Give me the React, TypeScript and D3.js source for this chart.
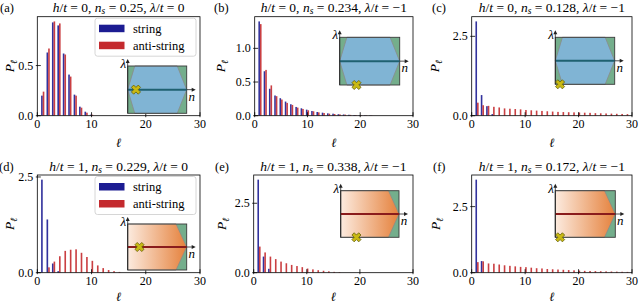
import React from 'react';
import * as d3 from 'd3';

// string / anti-string length distributions P_ell, ell = 1, 2, 3, ...
const stringA = [0.2, 0.63, 0.93, 0.9, 0.62, 0.41, 0.21, 0.09, 0.04, 0.01];
const antiA = [0.24, 0.67, 0.94, 0.92, 0.61, 0.39, 0.2, 0.08, 0.03, 0.01];

const stringB = [1.4, 0.66, 0.4, 0.3, 0.26, 0.21, 0.17, 0.13, 0.11, 0.09, 0.07, 0.055, 0.045, 0.035, 0.03, 0.022, 0.018, 0.014, 0.01, 0.008, 0.006, 0.005];
const antiB = [1.36, 0.68, 0.45, 0.29, 0.24, 0.19, 0.16, 0.12, 0.1, 0.08, 0.065, 0.05, 0.04, 0.03, 0.025, 0.02, 0.016, 0.012, 0.01, 0.008, 0.006, 0.005];

const stringC = [2.97, 0.65, 0.3, 0.05];
const antiC = [0.41, 0.33, 0.31, 0.28, 0.26, 0.23, 0.22, 0.21, 0.2, 0.18, 0.17, 0.16, 0.15, 0.14, 0.13, 0.12, 0.115, 0.11, 0.105, 0.1, 0.095, 0.09, 0.08, 0.075, 0.07, 0.065, 0.06, 0.055, 0.05];

const stringD = [2.43, 1.39, 0.24, 0.04];
const antiD = [0.0, 0.14, 0.29, 0.43, 0.57, 0.6, 0.61, 0.52, 0.41, 0.31, 0.19, 0.12, 0.07, 0.04, 0.02];

const stringE = [3.35, 0.58, 0.14];
const antiE = [0.94, 0.73, 0.58, 0.49, 0.4, 0.34, 0.28, 0.24, 0.2, 0.15, 0.12, 0.09, 0.07, 0.05, 0.03, 0.02];

const stringF = [3.52, 0.44];
const antiF = [0.4, 0.43, 0.35, 0.34, 0.31, 0.28, 0.26, 0.24, 0.22, 0.21, 0.19, 0.17, 0.16, 0.14, 0.13, 0.12, 0.11, 0.1, 0.09, 0.08, 0.07, 0.065, 0.06, 0.055, 0.05, 0.045, 0.04, 0.035, 0.03];

// panel parameters
const panelLetters = ['a', 'b', 'c', 'd', 'e', 'f'];
const hValues = ['0', '0', '0', '1', '1', '1'];
const nsValues = ['0.25', '0.234', '0.128', '0.229', '0.338', '0.172'];
const lamValues = ['0', '\u22121', '\u22121', '0', '\u22121', '\u22121'];
const yTicks = [[0, 0.5], [0, 0.5, 1.0], [0, 2.5], [0, 2.5], [0, 2.5], [0, 2.5]];
const xTicks = [0, 10, 20, 30];

// position of the cross in the (n, lambda) phase diagram insets
const markN = [0.14, 0.28, 0.08, 0.2, 0.27, 0.08];
const markLam = [0, -1, -1, 0, -1, -1];

// phase boundaries in the insets
const hexN = [0, 0.12, 0.84, 1, 0.84, 0.12];
const hexLam = [0, 1, 1, 0, -1, -1];
const pentN = [0, 0.82, 1, 0.82, 0];
const pentLam = [1, 1, 0, -1, -1];

const stringSeries = [stringA, stringB, stringC, stringD, stringE, stringF];
const antiSeries = [antiA, antiB, antiC, antiD, antiE, antiF];

const W = 639;
const H = 303;
const serif = 'Liberation Serif';
const blue = '#1c1c92';
const red = '#c42a2e';

// pixel layout of each panel: axes box, inset box, whether it has a legend
const layout = [
  { ax: [37.3, 200, 16.7, 115.7], inset: [127.7, 186.7, 66, 113.3], label: 0, ylab: 14, xlab: 31, legend: true },
  { ax: [254.7, 413, 16.7, 115.7], inset: [339.7, 399.7, 37.3, 85], label: 214, ylab: 225, xlab: 31, legend: false },
  { ax: [471.7, 632, 16.7, 115.7], inset: [555.3, 614.7, 37.3, 84.3], label: 432, ylab: 439, xlab: 31, legend: false },
  { ax: [37.3, 200, 175, 272.7], inset: [127.7, 186.7, 224, 270], label: -1, ylab: 14, xlab: 28, legend: true },
  { ax: [253.7, 413, 175, 272.7], inset: [340.7, 399, 190.7, 237.3], label: 215, ylab: 226, xlab: 28, legend: false },
  { ax: [471.7, 632, 175, 272.7], inset: [555.3, 615.3, 190.7, 237.3], label: 433, ylab: 440, xlab: 28, legend: false },
];

function Inset({ i }) {
  const [x0, x1, y0, y1] = layout[i].inset;
  const n = d3.scaleLinear().domain([0, 1]).range([x0, x1]);
  const lam = d3.scaleLinear().domain([-1, 1]).range([y1, y0]);
  const top = i < 3;
  const line = d3.line<number>().x((_, k) => n(top ? hexN[k] : pentN[k])).y((_, k) => lam(top ? hexLam[k] : pentLam[k]));
  const pts = top ? hexN : pentN;
  const ym = lam(0);
  const cross = d3.symbol().type(d3.symbolCross).size(52)();
  return (
    <g>
      <rect x={x0} y={y0} width={x1 - x0} height={y1 - y0} fill="#74ae8c" />
      <path d={line(pts) + 'Z'} fill={top ? '#80b4d4' : 'url(#orangeGrad)'} stroke="#8a8a8a" strokeWidth={0.8} />
      <rect x={x0} y={y0} width={x1 - x0} height={y1 - y0} fill="none" stroke="#3a3a3a" strokeWidth={0.9} />
      <line x1={x0} x2={x1} y1={ym} y2={ym} stroke={top ? '#1f6170' : '#8a1c1c'} strokeWidth={2} />
      <line x1={x1} x2={x1 + 6} y1={ym} y2={ym} stroke="#222" strokeWidth={0.8} />
      <path d={`M${x1 + 9},${ym} L${x1 + 5},${ym - 2} L${x1 + 5},${ym + 2} Z`} fill="#222" />
      <line x1={x0} x2={x0} y1={y1} y2={y0 - 4} stroke="#222" strokeWidth={0.8} />
      <path d={`M${x0},${y0 - 7} L${x0 - 2},${y0 - 3} L${x0 + 2},${y0 - 3} Z`} fill="#222" />
      <text x={x0 - 1.5} y={y0 + 2} textAnchor="end" fontStyle="italic" fontSize={13}>λ</text>
      <text x={x1 + 5} y={ym + 11} textAnchor="middle" fontStyle="italic" fontSize={13}>n</text>
      <path d={cross} transform={`translate(${n(markN[i])},${lam(markLam[i])}) rotate(45)`} fill="#c9b914" stroke="#5e5a00" strokeWidth={0.7} />
    </g>
  );
}

function Panel({ i }) {
  const L = layout[i];
  const [left, right, top, bottom] = L.ax;
  const s = stringSeries[i];
  const a = antiSeries[i];
  const ymax = 1.05 * d3.max([...s, ...a]);
  const x = d3.scaleLinear().domain([0, 30]).range([left, right]);
  const y = d3.scaleLinear().domain([0, ymax]).range([bottom, top]);
  const bw = x(0.3) - x(0);
  const cx = (left + right) / 2;
  const tY = top - 4.5;
  const fmt = d3.format('.1f');
  return (
    <g>
      <clipPath id={`clip${i}`}>
        <rect x={left} y={top} width={right - left} height={bottom - top} />
      </clipPath>
      <g clipPath={`url(#clip${i})`}>
        {s.map((v, k) => (
          <rect key={'s' + k} x={x(k + 1 - 0.3)} y={y(v)} width={bw} height={bottom - y(v)} fill={blue} opacity={0.9} />
        ))}
        {a.map((v, k) => (
          <rect key={'a' + k} x={x(k + 1)} y={y(v)} width={bw} height={bottom - y(v)} fill={red} opacity={0.9} />
        ))}
      </g>
      {xTicks.map(t => (
        <g key={'x' + t}>
          <line x1={x(t)} x2={x(t)} y1={bottom + 1.5} y2={bottom - 3.5} stroke="#000" strokeWidth={0.8} />
          <text x={x(t)} y={bottom + 12} textAnchor="middle" fontSize={12}>{t}</text>
        </g>
      ))}
      {yTicks[i].map(t => (
        <g key={'y' + t}>
          <line x1={left - 1.5} x2={left + 3.5} y1={y(t)} y2={y(t)} stroke="#000" strokeWidth={0.8} />
          <text x={left - 4} y={y(t) + 4} textAnchor="end" fontSize={12}>{fmt(t)}</text>
        </g>
      ))}
      <rect x={left} y={top} width={right - left} height={bottom - top} fill="none" stroke="#000" strokeWidth={0.8} />
      {L.legend && (
        <g>
          <rect x={95} y={top + 1.5} width={101} height={38} rx={2.5} fill="#fff" fillOpacity={0.8} stroke="#cccccc" strokeWidth={0.8} />
          <rect x={99} y={top + 8} width={25.5} height={7.5} fill={blue} />
          <rect x={99} y={top + 25} width={25.5} height={7.5} fill={red} />
          <text x={133} y={top + 16} fontSize={12.5}>string</text>
          <text x={133} y={top + 33} fontSize={12.5}>anti-string</text>
        </g>
      )}
      <Inset i={i} />
      <text x={L.label} y={tY} fontSize={12.5}>({panelLetters[i]})</text>
      <text x={cx} y={tY} textAnchor="middle" fontSize={13.5}>
        <tspan fontStyle="italic">h</tspan>
        <tspan>/</tspan>
        <tspan fontStyle="italic">t</tspan>
        <tspan>{` = ${hValues[i]}, `}</tspan>
        <tspan fontStyle="italic">n</tspan>
        <tspan fontStyle="italic" fontSize={9.5} dy={2}>s</tspan>
        <tspan dy={-2}>{` = ${nsValues[i]}, `}</tspan>
        <tspan fontStyle="italic">λ</tspan>
        <tspan>/</tspan>
        <tspan fontStyle="italic">t</tspan>
        <tspan>{` = ${lamValues[i]}`}</tspan>
      </text>
      <text transform={`translate(${L.ylab},${(top + bottom) / 2}) rotate(-90)`} textAnchor="middle" fontSize={13.5}>
        <tspan fontStyle="italic">P</tspan>
        <tspan fontStyle="italic" fontSize={9.5} dy={2.5}>ℓ</tspan>
      </text>
      <text x={cx} y={bottom + L.xlab} textAnchor="middle" fontStyle="italic" fontSize={12.5}>ℓ</text>
    </g>
  );
}

export default function App() {
  return (
    <div style={{ position: 'fixed', left: 0, top: 0 }}>
      <svg width={W} height={H} style={{ display: 'block', background: '#fff', fontFamily: `"${serif}", "DejaVu Serif", serif` }}>
        <defs>
          <linearGradient id="orangeGrad" x1="0" x2="1" y1="0" y2="0">
            <stop offset="0%" stopColor="#fcebdf" />
            <stop offset="100%" stopColor="#e5813c" />
          </linearGradient>
        </defs>
        {layout.map((_, i) => (
          <Panel key={i} i={i} />
        ))}
      </svg>
    </div>
  );
}
